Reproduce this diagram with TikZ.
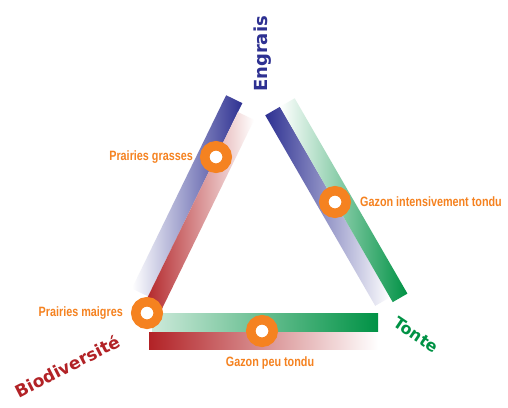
\documentclass[tikz,border=0pt]{standalone}
\usepackage{fontspec}
\usetikzlibrary{positioning}
\newfontfamily\labelfont{Liberation Sans}[FakeStretch=0.8]
\newfontfamily\polefont{DejaVu Sans}

\definecolor{engraisblue}{RGB}{46,49,146}
\definecolor{tontegreen}{RGB}{0,146,69}
\definecolor{biored}{RGB}{178,34,38}
\definecolor{ringorange}{RGB}{245,130,32}

\tikzset{
  bar/.style={rectangle, minimum height=18pt, inner sep=0pt, outer sep=0pt},
  ring/.style={circle, draw=ringorange, line width=9.5pt, fill=white, minimum size=22.5pt, inner sep=0pt},
  stage/.style={text=ringorange, font=\labelfont\bfseries\fontsize{13.5}{16}\selectfont, inner sep=0pt},
  pole/.style={font=\polefont\bfseries\fontsize{18}{20}\selectfont, inner sep=0pt}
}

\begin{document}
\begin{tikzpicture}[x=1pt, y=-1pt]
    \useasboundingbox[fill=white] (0,0) rectangle (508,407);
    % left side: engrais and biodiversite bars
    \node[bar, minimum width=215pt, rotate=64, left color=white, right color=engraisblue] (blueleft) at (187.1,195.8) {};
    \node[bar, minimum width=215pt, rotate=64, left color=biored, right color=white] (redleft) at (198.9,212.6) {};
    % right side: engrais and tonte bars
    \node[bar, minimum width=220pt, minimum height=17pt, rotate=-60, left color=engraisblue, right color=white] (blueright) at (327.6,206.3) {};
    \node[bar, minimum width=225.5pt, minimum height=17pt, rotate=-60, left color=white, right color=tontegreen] (greenright) at (343.7,200.2) {};
    % bottom side: tonte and biodiversite bars
    \node[bar, minimum width=226pt, left color=tontegreen!20, right color=tontegreen] (greenbottom) at (265,322) {};
    \node[bar, minimum width=229pt, minimum height=17pt, left color=biored, right color=white] (redbottom) at (263.5,340.5) {};

    % rings and their labels
    \node[ring] (pg) at (216,157) {};
    \node[ring] (git) at (335,202) {};
    \node[ring] (pm) at (147,313) {};
    \node[ring] (gpt) at (262,331) {};
    \node[stage, left=7pt of pg] (pglbl) {Prairies grasses};
    \node[stage, right=9pt of git] (gitlbl) {Gazon intensivement tondu};
    \node[stage, left=8pt of pm] (pmlbl) {Prairies maigres};
    \node[stage, below=10pt of gpt, xshift=8pt] (gptlbl) {Gazon peu tondu};

    % the three poles
    \node[pole, text=engraisblue, rotate=90, anchor=base] (engrais) at (267,54) {Engrais};
    \node[pole, text=tontegreen, rotate=-34, font=\polefont\bfseries\fontsize{16}{18}\selectfont] (tonte) at (416,335) {Tonte};
    \node[pole, text=biored, rotate=27, font=\polefont\bfseries\fontsize{17}{19}\selectfont] (bio) at (67,366) {Biodiversité};
\end{tikzpicture}
\end{document}
